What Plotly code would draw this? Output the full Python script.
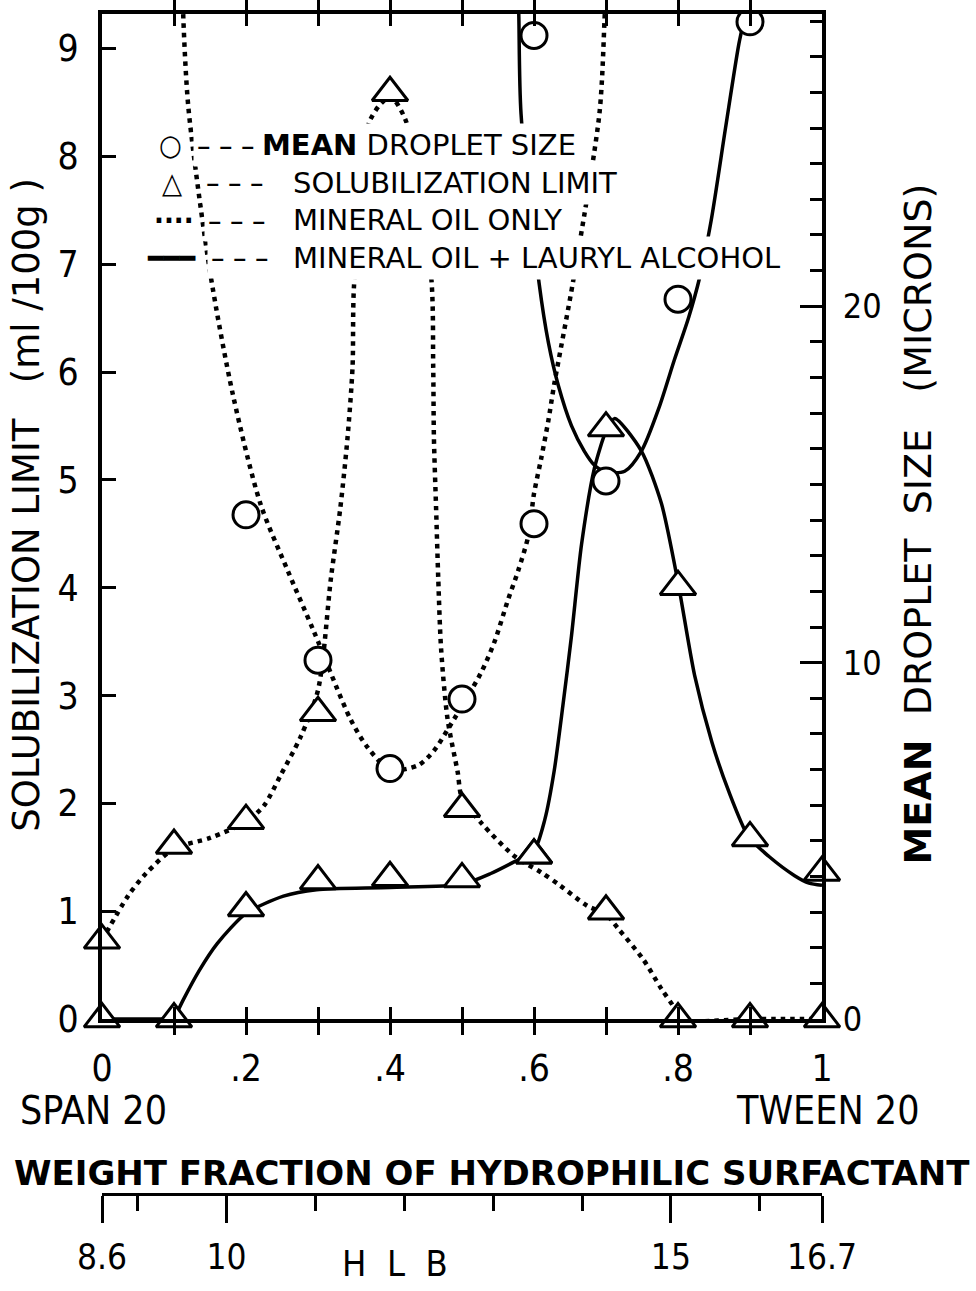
import plotly.graph_objects as go

# ---------------------------------------------------------------------------
# Data: Span 20 / Tween 20 blends, weight fraction of the hydrophilic surfactant
# ---------------------------------------------------------------------------
w = [0.0, 0.1, 0.2, 0.3, 0.4, 0.5, 0.6, 0.7, 0.8, 0.9, 1.0]

# Solubilization limit (ml / 100 g) at each blend
sol_oil = [0.73, 1.61, 1.84, 2.84, 8.59, 1.95, 1.52, 1.00, 0.0, 0.0, 0.0]
sol_lauryl = [0.0, 0.0, 1.03, 1.28, 1.31, 1.30, 1.52, 5.48, 4.01, 1.68, 1.36]

# Mean droplet size (microns)
drop_oil_w = [0.2, 0.3, 0.4, 0.5, 0.6]
drop_oil = [14.15, 10.07, 7.03, 8.98, 13.9]
drop_lauryl_w = [0.6, 0.7, 0.8, 0.9]
drop_lauryl = [27.6, 15.1, 20.2, 27.98]

# Hand-drawn trend curves
sol_oil_curve_w = [0.0, 0.036, 0.061, 0.1, 0.15, 0.2, 0.225, 0.248, 0.276, 0.30,
                   0.318, 0.331, 0.341, 0.348, 0.350, 0.372, 0.40, 0.422,
                   0.457, 0.460, 0.461, 0.464, 0.467, 0.471, 0.480, 0.494, 0.5,
                   0.528, 0.573, 0.61, 0.636, 0.674, 0.70, 0.718, 0.751, 0.777,
                   0.795, 0.8, 0.9, 1.0]
sol_oil_curve = [0.73, 1.14, 1.35, 1.58, 1.68, 1.83, 1.98, 2.26, 2.62, 3.05,
                 4.09, 4.74, 5.39, 6.05, 6.80, 8.33, 8.55, 8.33,
                 6.90, 6.05, 5.39, 4.74, 4.09, 3.43, 2.78, 2.29, 2.05,
                 1.81, 1.51, 1.36, 1.24, 1.05, 0.97, 0.83, 0.56, 0.28,
                 0.10, 0.0, 0.0, 0.0]

# flat run along the baseline, then the smooth rise and fall
sol_lauryl_flat_w = [0.0, 0.1]
sol_lauryl_flat = [0.0, 0.0]
sol_lauryl_curve_w = [0.1, 0.113, 0.135, 0.16, 0.2, 0.252, 0.298, 0.4,
                      0.5, 0.54, 0.573, 0.60, 0.615, 0.628, 0.640, 0.652, 0.666,
                      0.684, 0.70, 0.712, 0.749, 0.777, 0.80, 0.823, 0.847,
                      0.870, 0.898, 0.926, 0.962, 0.982, 1.0]
sol_lauryl_curve = [0.0, 0.18, 0.45, 0.70, 0.98, 1.14, 1.20, 1.22,
                    1.25, 1.35, 1.46, 1.56, 1.85, 2.30, 2.90, 3.55, 4.40,
                    5.11, 5.45, 5.57, 5.27, 4.78, 4.05, 3.19, 2.57,
                    2.12, 1.69, 1.51, 1.33, 1.26, 1.24]

drop_oil_curve_w = [0.112, 0.113, 0.120, 0.150, 0.182, 0.220, 0.258, 0.294, 0.345,
                    0.369, 0.40, 0.439, 0.461, 0.480, 0.526, 0.545, 0.564, 0.578,
                    0.592, 0.600, 0.610, 0.620, 0.628, 0.655, 0.691, 0.698, 0.700]
drop_oil_curve = [29.0, 28.06, 25.57, 20.97, 17.5, 14.46, 12.58, 10.89, 8.42,
                  7.62, 7.00, 7.12, 7.53, 8.12, 9.70, 10.58, 11.77, 12.58,
                  13.55, 14.74, 15.73, 16.8, 17.8, 20.78, 25.43, 28.06, 29.0]

drop_lauryl_curve_w = [0.578, 0.579, 0.582, 0.607, 0.620, 0.634, 0.652, 0.670, 0.684,
                       0.70, 0.726, 0.749, 0.773, 0.795, 0.815, 0.830, 0.846,
                       0.866, 0.884, 0.894, 0.897]
drop_lauryl_curve = [29.0, 28.06, 25.4, 20.66, 18.98, 17.76, 16.65, 15.93, 15.54,
                     15.35, 15.37, 15.93, 17.12, 18.50, 19.70, 20.8, 22.4,
                     25.0, 27.3, 28.3, 29.0]

# HLB scale of the blends
HLB_SPAN20 = 8.6
HLB_TWEEN20 = 16.7
hlb_major = [8.6, 10, 15, 16.7]
hlb_minor = [9, 11, 12, 13, 14, 16]

x_tick_vals = [0.0, 0.1, 0.2, 0.3, 0.4, 0.5, 0.6, 0.7, 0.8, 0.9, 1.0]
x_tick_text = ["0", "", ".2", "", ".4", "", ".6", "", ".8", "", "1"]

# ---------------------------------------------------------------------------
# Page geometry (pixels)
# ---------------------------------------------------------------------------
W, H = 976, 1291
ML, MR, MT, MB = 102, 154, 10, 20
PW = W - ML - MR
PH = H - MT - MB
AXIS_BOTTOM_PX = 1028
HLB_LINE_PX = 1205


def fx(px_):
    return (px_ - ML) / PW


def fy(py_):
    return (H - MB - py_) / PH


NARROW = "DejaVu Sans Condensed, DejaVu Sans, sans-serif"
WIDE = "DejaVu Sans, sans-serif"
INK = "black"
DOT = "4.5px,5px"

fig = go.Figure()

# curves
dotted = dict(color=INK, width=4.5, dash=DOT, shape="spline", smoothing=0.8)
solid = dict(color=INK, width=3.5, shape="spline", smoothing=0.8)
fig.add_trace(go.Scatter(x=sol_oil_curve_w, y=sol_oil_curve, mode="lines",
                         line=dotted, showlegend=False, hoverinfo="skip"))
fig.add_trace(go.Scatter(x=sol_lauryl_flat_w, y=sol_lauryl_flat, mode="lines",
                         line=dict(color=INK, width=3.5), showlegend=False, hoverinfo="skip"))
fig.add_trace(go.Scatter(x=sol_lauryl_curve_w, y=sol_lauryl_curve, mode="lines",
                         line=dict(solid, smoothing=0.7), showlegend=False, hoverinfo="skip"))

# solubilization points
tri = dict(symbol="triangle-up", size=31, color="white", line=dict(color=INK, width=3))
fig.add_trace(go.Scatter(x=w, y=sol_oil, mode="markers", marker=tri,
                         cliponaxis=False, name="Mineral oil only"))
fig.add_trace(go.Scatter(x=w, y=sol_lauryl, mode="markers", marker=tri,
                         cliponaxis=False, name="Mineral oil + lauryl alcohol"))

# droplet-size curves and points on the right axis
fig.add_trace(go.Scatter(x=drop_oil_curve_w, y=drop_oil_curve, yaxis="y2", mode="lines",
                         line=dotted, showlegend=False, hoverinfo="skip"))
fig.add_trace(go.Scatter(x=drop_lauryl_curve_w, y=drop_lauryl_curve, yaxis="y2", mode="lines",
                         line=solid, showlegend=False, hoverinfo="skip"))
circ = dict(symbol="circle", size=26, color="white", line=dict(color=INK, width=3))
fig.add_trace(go.Scatter(x=drop_oil_w, y=drop_oil, yaxis="y2", mode="markers", marker=circ,
                         name="Droplet size, mineral oil only"))
fig.add_trace(go.Scatter(x=drop_lauryl_w, y=drop_lauryl, yaxis="y2", mode="markers", marker=circ,
                         name="Droplet size, mineral oil + lauryl alcohol"))

# carrier for the HLB scale
fig.add_trace(go.Scatter(x=[HLB_SPAN20, HLB_TWEEN20], y=[None, None], xaxis="x2",
                         mode="markers", showlegend=False, hoverinfo="skip"))

y_dom0 = fy(AXIS_BOTTOM_PX)
tickfont = dict(family=NARROW, size=37, color=INK)

fig.update_layout(
    width=W, height=H,
    margin=dict(l=ML, r=MR, t=MT, b=MB, pad=0),
    paper_bgcolor="white", plot_bgcolor="white",
    showlegend=False,
    font=dict(family=NARROW, color=INK),
    xaxis=dict(range=[0, 1], showgrid=False, zeroline=False,
               showline=True, linewidth=4, linecolor=INK, mirror="allticks",
               ticks="inside", ticklen=12, tickwidth=2.5, tickcolor=INK,
               tickmode="array", tickvals=x_tick_vals, ticktext=x_tick_text,
               tickfont=tickfont, ticklabelstandoff=14),
    xaxis2=dict(overlaying="x", anchor="free", position=fy(HLB_LINE_PX), side="bottom",
                range=[HLB_SPAN20, HLB_TWEEN20], showgrid=False, zeroline=False,
                showline=True, linewidth=3, linecolor=INK,
                ticks="outside", ticklen=27, tickwidth=3, tickcolor=INK,
                tickmode="array", tickvals=hlb_major,
                ticktext=[f"{v:g}" for v in hlb_major],
                minor=dict(tickmode="array", tickvals=hlb_minor, ticks="outside",
                           ticklen=15, tickwidth=3, tickcolor=INK),
                tickfont=dict(family=NARROW, size=35, color=INK), ticklabelstandoff=4),
    yaxis=dict(domain=[y_dom0, 1], range=[0, 9.32], showgrid=False, zeroline=False,
               showline=True, linewidth=4, linecolor=INK,
               ticks="inside", ticklen=14, tickwidth=2.5, tickcolor=INK,
               tick0=0, dtick=1, tickfont=tickfont, ticklabelstandoff=12),
    yaxis2=dict(overlaying="y", side="right", range=[0, 28.2], showgrid=False,
                zeroline=False, showline=True, linewidth=4, linecolor=INK,
                ticks="inside", ticklen=22, tickwidth=2.5, tickcolor=INK,
                tick0=0, dtick=10,
                minor=dict(tick0=0, dtick=1, ticks="inside", ticklen=12,
                           tickwidth=2.5, tickcolor=INK),
                tickfont=dict(family=NARROW, size=34, color=INK), ticklabelstandoff=10),
)

ann = []


def text(px_, py_, s, size, xanchor="center", angle=0, bg=None, pad=4, family=NARROW):
    d = dict(x=fx(px_), y=fy(py_), xref="paper", yref="paper", text=s,
             showarrow=False, xanchor=xanchor, yanchor="middle", textangle=angle,
             font=dict(family=family, size=size, color=INK))
    if bg:
        d.update(bgcolor=bg, borderpad=pad)
    ann.append(d)


# axis titles
text(27, 507, "SOLUBILIZATION LIMIT   (ml /100g )", 37, angle=-90, family=WIDE)
text(918, 527, "<b>MEAN</b>  DROPLET  SIZE   (MICRONS)", 38, angle=-90, family=WIDE)

# end members and abscissa title
text(18, 1121, "SPAN 20", 39, xanchor="left")
text(921, 1121, "TWEEN 20", 39, xanchor="right")
text(492, 1184, "<b>WEIGHT FRACTION OF HYDROPHILIC SURFACTANT</b>", 34, family=WIDE)
text(395, 1276, "H  L  B", 36)

# key: white-backed dashes and labels first, symbols on top
key_rows = [
    (170, 143, "<b>○</b>", 29, 226, 257, "<b>MEAN</b> DROPLET SIZE"),
    (172, 181, "<b>△</b>", 29, 235, 288, "SOLUBILIZATION LIMIT"),
    (174, 219, "<b>····</b>", 29, 237, 288, "MINERAL OIL ONLY"),
    (171, 257, "<b>━━━</b>", 29, 240, 288, "MINERAL OIL + LAURYL ALCOHOL"),
]
for sx, sy, sym, ssize, dx, tx, label in key_rows:
    text(dx, sy, "– – –", 30, bg="white", pad=3)
    text(tx, sy, label, 29, xanchor="left", bg="white", family=WIDE)
for sx, sy, sym, ssize, dx, tx, label in key_rows:
    text(sx, sy, sym, ssize, bg="white", pad=1)

fig.update_layout(annotations=ann)

fig.write_html("out.html")
